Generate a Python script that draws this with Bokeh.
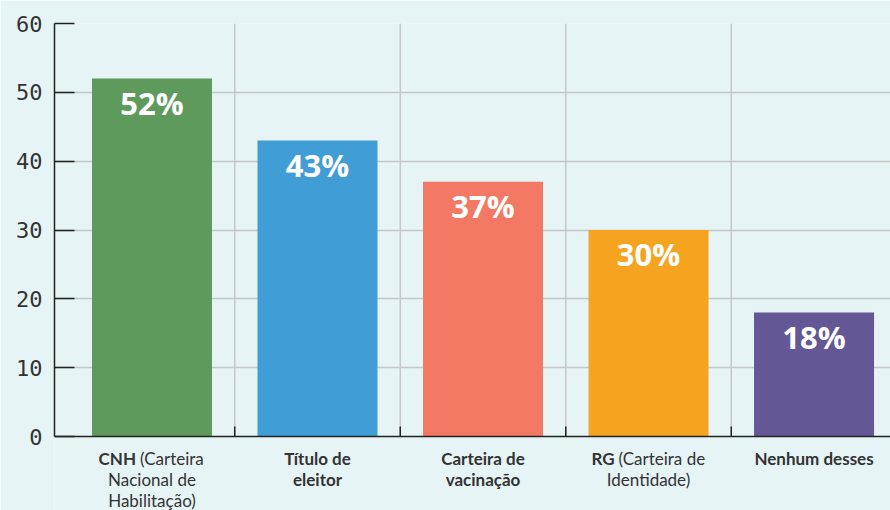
from bokeh.plotting import figure
from bokeh.models import Range1d, FixedTicker, Grid, Span
from bokeh.core.properties import value
from bokeh.embed import file_html
from bokeh.resources import INLINE

# ---- data ----
categories = ["CNH", "Título de eleitor", "Carteira de vacinação", "RG", "Nenhum desses"]
percent = [52, 43, 37, 30, 18]
bar_colors = ["#5f9a5d", "#409dd6", "#f47964", "#f6a420", "#635796"]
value_labels = ["52%", "43%", "37%", "30%", "18%"]
# label lines: (bold part, regular part) per line
label_lines = [
    [("CNH", "(Carteira"), ("", "Nacional de"), ("", "Habilitação)")],
    [("Título de", ""), ("eleitor", "")],
    [("Carteira de", ""), ("vacinação", "")],
    [("RG", "(Carteira de"), ("", "Identidade)")],
    [("Nenhum desses", "")],
]
y_ticks = [0, 10, 20, 30, 40, 50, 60]
boundaries = [1, 2, 3, 4]

BG = "#e6f4f5"
TXT = "#333333"
FONT = "Lato"
FS = "17px"
GRID = "#c4c6c8"

xs = [i + 0.5 for i in range(len(categories))]

p = figure(width=890, height=510, output_backend="svg", toolbar_location=None,
           x_range=Range1d(-0.089, 4.962), y_range=Range1d(-10.75, 60),
           min_border_left=54, min_border_top=23, min_border_right=0,
           min_border_bottom=0)
p.background_fill_color = BG
p.border_fill_color = BG
p.outline_line_color = None
p.xaxis.visible = False
p.xgrid.visible = False
p.ygrid.visible = False

yax = p.yaxis[0]
yax.ticker = FixedTicker(ticks=y_ticks)
yax.bounds = (0, 60)
yax.axis_line_color = "#222222"
yax.axis_line_width = 1.5
yax.major_tick_in = 20
yax.major_tick_out = 0
yax.major_tick_line_color = "#222222"
yax.major_tick_line_width = 1.5
yax.minor_tick_line_color = None
yax.major_label_text_font = "DejaVu Sans Mono"
yax.major_label_text_font_size = "22px"
yax.major_label_text_color = TXT
yax.major_label_standoff = 12

# horizontal grid
hg = Grid(dimension=1, ticker=FixedTicker(ticks=y_ticks[1:]), grid_line_color=GRID,
          grid_line_width=1.5)
p.add_layout(hg)
# vertical separators between categories, from 0 to top
p.segment(x0=boundaries, y0=[y_ticks[0]] * 4, x1=boundaries, y1=[y_ticks[-1]] * 4,
          line_color=GRID, line_width=1.5)

# bars
p.vbar(x=xs, top=percent, bottom=0, width=0.725, color=bar_colors, line_color=None)

# x axis line
p.add_layout(Span(location=0, dimension="width", line_color="#222222", line_width=1.5))
# boundary ticks
p.segment(x0=boundaries, y0=[0] * 4, x1=boundaries, y1=[1.45] * 4,
          line_color="#222222", line_width=1.5)

# value labels
p.text(x=xs, y=percent, text=value_labels, text_align="center", text_baseline="alphabetic",
       y_offset=24, text_color="white", text_font=value("Open Sans"),
       text_font_style="bold", text_font_size="31px")

# category labels
for i, lines in enumerate(label_lines):
    for j, (b, r) in enumerate(lines):
        yoff = 22 + 21 * j
        if b and r:
            split = -16 if i == 0 else -34
            p.text(x=[xs[i]], y=[0], text=[b], text_align="right", text_baseline="alphabetic",
                   x_offset=split, y_offset=yoff, text_color=TXT, text_font=value(FONT),
                   text_font_style="bold", text_font_size=FS)
            p.text(x=[xs[i]], y=[0], text=[r], text_align="left", text_baseline="alphabetic",
                   x_offset=split + 4, y_offset=yoff, text_color=TXT, text_font=value(FONT),
                   text_font_size=FS)
        elif b:
            p.text(x=[xs[i]], y=[0], text=[b], text_align="center", text_baseline="alphabetic",
                   y_offset=yoff, text_color=TXT, text_font=value(FONT),
                   text_font_style="bold", text_font_size=FS)
        else:
            p.text(x=[xs[i]], y=[0], text=[r], text_align="center", text_baseline="alphabetic",
                   y_offset=yoff, text_color=TXT, text_font=value(FONT),
                   text_font_size=FS)

html = file_html(p, INLINE)
html = html.replace("<body>", '<body style="background:%s">' % BG, 1)
open("out.html", "w").write(html)
